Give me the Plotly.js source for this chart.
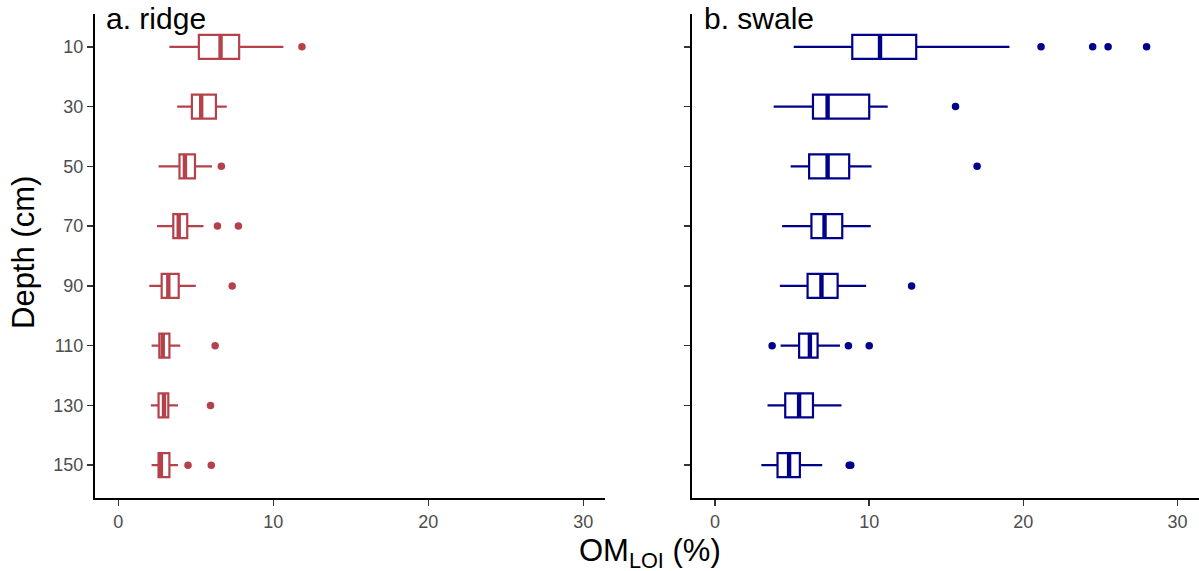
<!DOCTYPE html>
<html>
<head>
<meta charset="utf-8">
<script src="https://cdn.plot.ly/plotly-3.0.1.min.js"></script>
<style>
  html, body { margin: 0; padding: 0; background: #fff; }
  #chart { width: 1199px; height: 571px; }
</style>
</head>
<body>
<div id="chart"></div>
<script>
// Sampling depths (cm), one box per depth
const depths = [10, 30, 50, 70, 90, 110, 130, 150];

// Organic matter by loss on ignition (%), ridge sites
const ridgeLow    = [3.3, 3.8, 2.6, 2.5, 2.0, 2.15, 2.1, 2.15];
const ridgeQ1     = [5.2, 4.75, 3.95, 3.55, 2.8, 2.65, 2.6, 2.6];
const ridgeMedian = [6.6, 5.35, 4.3, 3.9, 3.23, 2.87, 2.95, 2.75];
const ridgeQ3     = [7.8, 6.3, 4.95, 4.45, 3.9, 3.3, 3.23, 3.3];
const ridgeHigh   = [10.65, 7.0, 6.05, 5.5, 5.0, 4.0, 3.85, 3.85];
const ridgeOutDepth = [10, 50, 70, 70, 90, 110, 130, 150, 150];
const ridgeOutValue = [11.85, 6.65, 6.4, 7.75, 7.35, 6.25, 5.95, 4.5, 6.0];

// Organic matter by loss on ignition (%), swale sites
const swaleLow    = [5.1, 3.8, 4.9, 4.35, 4.2, 4.25, 3.4, 3.0];
const swaleQ1     = [8.9, 6.35, 6.1, 6.25, 6.0, 5.45, 4.55, 4.05];
const swaleMedian = [10.7, 7.3, 7.3, 7.1, 6.9, 6.15, 5.45, 4.8];
const swaleQ3     = [13.05, 10.0, 8.7, 8.25, 7.95, 6.65, 6.35, 5.5];
const swaleHigh   = [19.1, 11.2, 10.15, 10.1, 9.8, 8.1, 8.2, 6.95];
const swaleOutDepth = [10, 10, 10, 10, 30, 50, 90, 110, 110, 110, 150, 150];
const swaleOutValue = [21.15, 24.5, 25.5, 28.0, 15.6, 17.0, 12.75, 3.7, 8.65, 10.0, 8.7, 8.8];

const xTicks = [0, 10, 20, 30];

const RED = '#B5424B';
const BLUE = '#00008B';
const BOX_W = 0.4;

const pos = depths.map((d, i) => i);
const posOf = d => depths.indexOf(d);

function boxTrace(low, q1, med, q3, high, color, xa, ya) {
  return {
    type: 'box', orientation: 'h',
    y: pos, q1: q1, median: med, q3: q3, lowerfence: low, upperfence: high,
    width: BOX_W, whiskerwidth: 0, boxpoints: false,
    line: { color: color, width: 2.2 }, fillcolor: '#ffffff',
    xaxis: xa, yaxis: ya, hoverinfo: 'skip'
  };
}

// Heavier median bar drawn over each box
function medianTrace(med, color, xa, ya) {
  const x = [], y = [];
  med.forEach((m, i) => {
    x.push(m, m, null);
    y.push(i - BOX_W / 2, i + BOX_W / 2, null);
  });
  return {
    type: 'scatter', mode: 'lines', x: x, y: y,
    line: { color: color, width: 4.4 }, xaxis: xa, yaxis: ya, hoverinfo: 'skip'
  };
}

function outlierTrace(dep, val, color, xa, ya) {
  return {
    type: 'scatter', mode: 'markers', x: val, y: dep.map(posOf),
    marker: { color: color, size: 7.5 }, xaxis: xa, yaxis: ya, hoverinfo: 'skip'
  };
}

const data = [
  boxTrace(ridgeLow, ridgeQ1, ridgeMedian, ridgeQ3, ridgeHigh, RED, 'x', 'y'),
  medianTrace(ridgeMedian, RED, 'x', 'y'),
  outlierTrace(ridgeOutDepth, ridgeOutValue, RED, 'x', 'y'),
  boxTrace(swaleLow, swaleQ1, swaleMedian, swaleQ3, swaleHigh, BLUE, 'x2', 'y2'),
  medianTrace(swaleMedian, BLUE, 'x2', 'y2'),
  outlierTrace(swaleOutDepth, swaleOutValue, BLUE, 'x2', 'y2')
];

const W = 1199, H = 571;
const M = { l: 95, r: 0, t: 14, b: 73 };
const PW = W - M.l - M.r, PH = H - M.t - M.b;
const px = x => (x - M.l) / PW;
const py = y => (H - M.b - y) / PH;

const tickFont = { family: 'Liberation Sans, Arial, sans-serif', size: 18, color: '#4d4d4d' };

function xAxis(domain, anchor) {
  return {
    domain: domain, anchor: anchor, range: [-1.5, 31.4],
    tickvals: xTicks, ticktext: xTicks.map(String),
    showgrid: false, zeroline: false,
    showline: true, linecolor: '#000', linewidth: 2,
    ticks: 'outside', ticklen: 6, tickwidth: 1.5, tickcolor: '#333',
    tickfont: tickFont, fixedrange: true
  };
}

function yAxis(anchor, labels) {
  return {
    anchor: anchor, range: [depths.length - 0.45, -0.55],
    tickvals: pos, ticktext: depths.map(String), showticklabels: labels,
    showgrid: false, zeroline: false,
    showline: true, linecolor: '#000', linewidth: 2,
    ticks: 'outside', ticklen: 6, tickwidth: 1.5, tickcolor: '#333',
    tickfont: tickFont, fixedrange: true
  };
}

const layout = {
  width: W, height: H, margin: M,
  paper_bgcolor: '#fff', plot_bgcolor: '#fff',
  showlegend: false,
  font: { family: 'Liberation Sans, Arial, sans-serif', color: '#000' },
  xaxis: xAxis([0, px(605)], 'y'),
  yaxis: yAxis('x', true),
  xaxis2: xAxis([px(692), 1], 'y2'),
  yaxis2: yAxis('x2', false),
  annotations: [
    { text: 'a. ridge', xref: 'paper', yref: 'paper', x: px(104), y: py(0),
      xanchor: 'left', yanchor: 'top', showarrow: false, font: { size: 30, color: '#000' } },
    { text: 'b. swale', xref: 'paper', yref: 'paper', x: px(702), y: py(0),
      xanchor: 'left', yanchor: 'top', showarrow: false, font: { size: 30, color: '#000' } },
    { text: 'Depth (cm)', xref: 'paper', yref: 'paper', x: px(24), y: py(253),
      xanchor: 'center', yanchor: 'middle', textangle: -90, showarrow: false,
      font: { size: 31, color: '#000' } },
    { text: 'OM<sub>LOI</sub> (%)', xref: 'paper', yref: 'paper', x: px(650), y: py(531),
      xanchor: 'center', yanchor: 'top', showarrow: false, font: { size: 31, color: '#000' } }
  ]
};

Plotly.newPlot('chart', data, layout, { staticPlot: true, displayModeBar: false });
</script>
</body>
</html>
